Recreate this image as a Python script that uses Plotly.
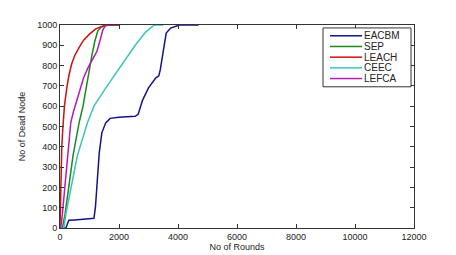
import plotly.graph_objects as go

# ---- data ----
eacbm_x = [0, 200, 250, 300, 500, 800, 1100, 1150, 1200, 1240, 1290, 1330, 1420, 1550, 1700, 2000, 2550, 2650, 2800, 3000, 3250, 3350, 3400, 3500, 3600, 3750, 4050, 4700]
eacbm_y = [0, 0, 20, 38, 40, 42, 45, 48, 100, 200, 300, 370, 470, 518, 540, 546, 550, 560, 630, 690, 740, 750, 780, 880, 960, 985, 1000, 1000]

sep_x = [0, 80, 170, 285, 442, 646, 780, 900, 1000, 1080, 1180, 1280, 1400, 1600, 2000]
sep_y = [0, 0, 67, 195, 357, 518, 600, 700, 790, 850, 920, 970, 990, 1000, 1000]

leach_x = [0, 30, 60, 100, 150, 230, 300, 400, 500, 650, 800, 1000, 1200, 1450, 1700, 2000]
leach_y = [0, 250, 400, 500, 600, 690, 750, 810, 850, 890, 925, 955, 980, 995, 1000, 1000]

ceec_x = [0, 130, 200, 360, 590, 930, 1150, 1600, 2060, 2550, 2900, 3200, 3500]
ceec_y = [0, 0, 70, 195, 357, 518, 600, 700, 800, 900, 965, 1000, 1000]

lefca_x = [0, 25, 80, 160, 252, 364, 450, 550, 700, 800, 950, 1100, 1250, 1350, 1450, 1550, 1800]
lefca_y = [0, 0, 67, 195, 357, 518, 570, 620, 690, 740, 790, 830, 870, 920, 975, 1000, 1000]

names = ["EACBM", "SEP", "LEACH", "CEEC", "LEFCA"]
colors = ["#14148a", "#1a8a1a", "#d01010", "#3cc4b8", "#b41cb4"]
xs_all = [eacbm_x, sep_x, leach_x, ceec_x, lefca_x]
ys_all = [eacbm_y, sep_y, leach_y, ceec_y, lefca_y]

x_ticks = [0, 2000, 4000, 6000, 8000, 10000, 12000]
x_tick_labels = ["0", "2000", "4000", "6000", "8000", "10000", "12000"]
y_ticks = [0, 100, 200, 300, 400, 500, 600, 700, 800, 900, 1000]

fig = go.Figure()
for name, xs, ys, col in zip(names, xs_all, ys_all, colors):
    fig.add_trace(go.Scatter(x=xs, y=ys, mode="lines", name=name,
                             line=dict(color=col, width=1.5), showlegend=False))

# ---- plot area geometry (pixels) ----
W, H = 456, 255
L, R, T, B = 52, 50, 13, 35
pw, ph = W - L - R, H - T - B

def px2paper_x(dx):  # dx: pixels from plot-area left
    return dx / pw

def px2paper_y(dy):  # dy: pixels from plot-area top
    return 1 - dy / ph

# ---- manual legend (box, line samples, labels) ----
box_l, box_r, box_t, box_b = 263, 351, 3, 63
shapes = [dict(type="rect", xref="paper", yref="paper",
               x0=px2paper_x(box_l), x1=px2paper_x(box_r),
               y0=px2paper_y(box_b), y1=px2paper_y(box_t),
               line=dict(color="#333", width=1), fillcolor="white", layer="above")]
annotations = []
row0, step = 11, 10.9
for i, (name, col) in enumerate(zip(names, colors)):
    yy = px2paper_y(row0 + i * step)
    shapes.append(dict(type="line", xref="paper", yref="paper",
                       x0=px2paper_x(270), x1=px2paper_x(302), y0=yy, y1=yy,
                       line=dict(color=col, width=1.5), layer="above"))
    annotations.append(dict(xref="paper", yref="paper", x=px2paper_x(302), y=yy,
                            text=name, showarrow=False, xanchor="left", yanchor="middle",
                            font=dict(size=10, color="#222")))

axis_common = dict(showline=True, mirror="ticks", linecolor="#333", linewidth=1,
                   ticks="inside", ticklen=4, tickcolor="#333", showgrid=False,
                   zeroline=False, tickfont=dict(size=9, color="#222"))

fig.update_layout(
    width=W, height=H,
    margin=dict(l=L, r=R, t=T, b=B),
    paper_bgcolor="white", plot_bgcolor="white",
    font=dict(family="Liberation Sans, Arial, sans-serif", size=9, color="#222"),
    xaxis=dict(range=[0, 12000], tickvals=x_ticks, ticktext=x_tick_labels,
               title=dict(text="No of Rounds", font=dict(size=9), standoff=2),
               **axis_common),
    yaxis=dict(range=[0, 1000], tickvals=y_ticks,
               title=dict(text="No of Dead Node", font=dict(size=9), standoff=10),
               **axis_common),
    shapes=shapes,
    annotations=annotations,
    showlegend=False,
)

fig.write_html("out.html")
